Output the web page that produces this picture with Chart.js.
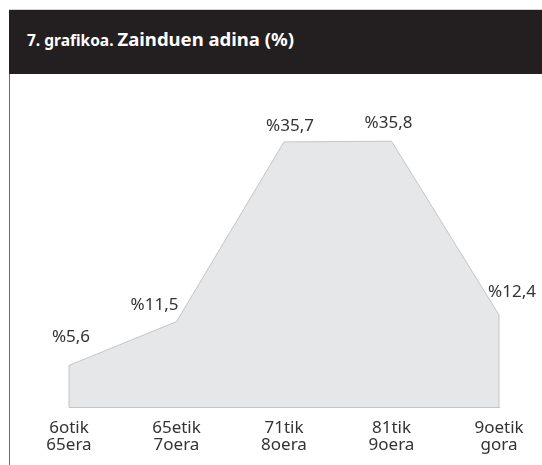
<!DOCTYPE html>
<html>
<head>
<meta charset="utf-8">
<script src="https://cdn.jsdelivr.net/npm/chart.js@4/dist/chart.umd.min.js"></script>
<style>
  html, body { margin: 0; padding: 0; background: #fff; }
  #wrap { position: relative; width: 542px; height: 465px; overflow: hidden; }
  #chart { position: absolute; left: 0; top: 0; }
  .topline { position: absolute; left: 9px; top: 9px; width: 533px; height: 1px; background: #d4d4d4; }
  .header { position: absolute; left: 9px; top: 10px; width: 533px; height: 64px; background: #231f20; }
  .title { position: absolute; left: 27px; top: 27px; line-height: 24px; white-space: nowrap;
           color: #fff; font-family: "Noto Sans", sans-serif; font-weight: bold; }
  .title .pre { font-size: 15.5px; }
  .title .main { font-size: 18.5px; }
  .leftline { position: absolute; left: 9px; top: 74px; width: 1px; height: 391px; background: #6d6d6d; }
</style>
</head>
<body>
<div id="wrap">
  <canvas id="chart" width="542" height="465"></canvas>
  <div class="topline"></div>
  <div class="header"></div>
  <div class="title"><span class="pre">7. grafikoa. </span><span class="main">Zainduen adina (%)</span></div>
  <div class="leftline"></div>
</div>
<script>
// age groups (two lines each) and share of cared persons (%)
var ageLabels = [['6otik', '65era'], ['65etik', '7oera'], ['71tik', '8oera'], ['81tik', '9oera'], ['9oetik', 'gora']];
var ageValues = [5.6, 11.5, 35.7, 35.8, 12.4];

var txtColor = '#333333';

// value labels above the points + outline round the filled area
var areaLabels = {
    id: 'areaLabels',
    afterDatasetsDraw: function (chart, args, opts) {
        var ctx = chart.ctx;
        var meta = chart.getDatasetMeta(0);
        var pts = meta.data;
        var y0 = chart.scales.y.getPixelForValue(0);

        ctx.save();
        ctx.strokeStyle = opts.outline;
        ctx.lineWidth = 1;
        ctx.beginPath();
        ctx.moveTo(pts[0].x, y0);
        pts.forEach(function (p) { ctx.lineTo(p.x, p.y); });
        ctx.lineTo(pts[pts.length - 1].x, y0);
        ctx.stroke();

        ctx.fillStyle = txtColor;
        ctx.font = '17px "Noto Sans"';
        ctx.textAlign = 'center';
        ctx.textBaseline = 'middle';
        pts.forEach(function (p, i) {
            var v = chart.data.datasets[0].data[i];
            var txt = '%' + String(v).replace('.', ',');
            ctx.fillText(txt, p.x + opts.dx[i], p.y + opts.dy[i]);
        });
        ctx.restore();
    }
};

var ctx = document.getElementById('chart').getContext('2d');
var ageChart = new Chart(ctx, {
    type: 'line',
    data: {
        labels: ageLabels,
        datasets: [{
            data: ageValues,
            fill: 'origin',
            backgroundColor: '#e6e7e8',
            borderWidth: 0,
            pointRadius: 0,
            tension: 0
        }]
    },
    options: {
        responsive: false,
        animation: false,
        devicePixelRatio: 1,
        layout: { padding: { left: 69, right: 43, top: 110, bottom: 6 } },
        scales: {
            x: {
                offset: false,
                grid: { display: false },
                border: { display: true, color: '#c4c4c4', width: 1 },
                ticks: {
                    color: txtColor,
                    font: { family: 'Noto Sans', size: 17, lineHeight: 1 },
                    padding: 5,
                    maxRotation: 0,
                    autoSkip: false
                }
            },
            y: { display: false, min: 0, max: 40 }
        },
        plugins: {
            legend: { display: false },
            tooltip: { enabled: false },
            areaLabels: {
                outline: '#c4c4c4',
                dx: [2, -22, 6, -3, 13],
                dy: [-28, -16, -16, -18, -23]
            }
        }
    },
    plugins: [areaLabels]
});
</script>
</body>
</html>
